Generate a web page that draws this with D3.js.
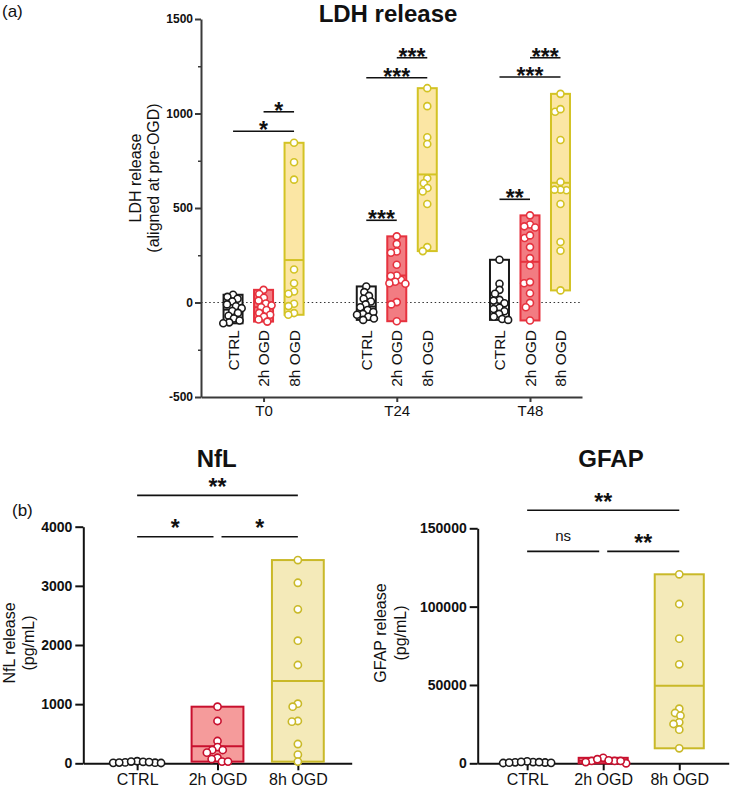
<!DOCTYPE html>
<html><head><meta charset="utf-8">
<script src="https://cdn.jsdelivr.net/npm/d3@7"></script>
<style>
body{margin:0;background:#fff}
svg{display:block}
text{font-family:"Liberation Sans",Arial,Helvetica,sans-serif}
</style>
</head><body>
<svg id="c" width="734" height="787"></svg>
<script>
// ---------------- DATA ----------------
const conditions = ["CTRL", "2h OGD", "8h OGD"];
const ldhGroups = ["T0", "T24", "T48"];
const ldhTicks = [-500, 0, 500, 1000, 1500];
const ldhMinorTicks = [-250, 250, 750, 1250];

const ldhT0Ctrl  = [41, 30, 20, 5, -10, -20, -30, -45, -55, -70, -85, -95, -105, -110];
const ldhT0Ogd2  = [67, 45, 25, 10, -5, -15, -25, -40, -55, -65, -75, -90, -101];
const ldhT0Ogd8  = [845, 742, 650, 175, 102, 58, 46, -7, -19, -56, -65];
const ldhT24Ctrl = [85, 55, 35, 20, 5, -10, -25, -40, -50, -60, -65, -75, -85, -92];
const ldhT24Ogd2 = [350, 310, 270, 263, 200, 120, 143, 140, 110, 102, 99, 2, -10, -99];
const ldhT24Ogd8 = [1134, 1039, 874, 839, 657, 631, 606, 587, 521, 293, 272];
const ldhT48Ctrl = [226, 99, 67, 46, 14, 10, -4, -28, -34, -46, -60, -75, -87, -92];
const ldhT48Ogd2 = [461, 413, 397, 403, 341, 355, 293, 235, 196, 102, 108, 49, -2, -25, -95];
const ldhT48Ogd8 = [1104, 1009, 1023, 860, 638, 594, 597, 597, 521, 320, 274, 64];

// significance comparisons
const ldhSigGroup = ["T0", "T0", "T24", "T24", "T24", "T48", "T48", "T48"];
const ldhSigA     = ["CTRL", "2h OGD", "CTRL", "CTRL", "2h OGD", "CTRL", "CTRL", "2h OGD"];
const ldhSigB     = ["8h OGD", "8h OGD", "2h OGD", "8h OGD", "8h OGD", "2h OGD", "8h OGD", "8h OGD"];
const ldhSigLevel = [906, 1009, 435, 1189, 1295, 546, 1193, 1295];
const ldhSigLabel = ["*", "*", "***", "***", "***", "**", "***", "***"];

const nflTicks = [0, 1000, 2000, 3000, 4000];
const nflCtrl = [10, 35, 25, 5, 20, 15, 8, 30, 12];
const nflOgd2 = [957, 715, 377, 275, 225, 225, 180, 95, 72, 28, 28];
const nflOgd8 = [3436, 3052, 2603, 2073, 1662, 1008, 957, 715, 704, 326, 146, 28];
const nflSigA = ["CTRL", "2h OGD", "CTRL"];
const nflSigB = ["2h OGD", "8h OGD", "8h OGD"];
const nflSigLevel = [3830, 3830, 4530];
const nflSigLabel = ["*", "*", "**"];

const gfapTicks = [0, 50000, 100000, 150000];
const gfapCtrl = [500, 800, 300, 1200, 600, 200, 900, 400, 700];
const gfapOgd2 = [1500, 3500, 1500, 2600, 0, 1900, 800, 1500];
const gfapOgd8 = [120638, 101681, 79553, 63191, 34851, 32106, 30404, 26149, 25085, 21468, 9574];
const gfapSigA = ["CTRL", "2h OGD", "CTRL"];
const gfapSigB = ["2h OGD", "8h OGD", "8h OGD"];
const gfapSigLevel = [135300, 135300, 161500];
const gfapSigLabel = ["ns", "**", "**"];

// ---------------- STYLE ----------------
const topColors = {
  "CTRL":   {stroke: "#1a1a1a", fill: "#ffffff"},
  "2h OGD": {stroke: "#e6323e", fill: "#f27c82"},
  "8h OGD": {stroke: "#d3c324", fill: "#fbe6a4"}
};
const botColors = {
  "CTRL":   {stroke: "#1a1a1a", fill: "#ffffff"},
  "2h OGD": {stroke: "#c8102e", fill: "#f59b9b"},
  "8h OGD": {stroke: "#c9b928", fill: "#f4eab9"}
};

const svg = d3.select("#c");

function beeswarm(vals, yScale, D) {
  const items = vals.map((v, i) => ({v, i, y: yScale(v)}));
  const sorted = items.slice().sort((a, b) => b.v - a.v);
  const placed = [];
  sorted.forEach(p => {
    const ivs = [];
    placed.forEach(q => {
      const dy = Math.abs(q.y - p.y);
      if (dy < D) { const dx = Math.sqrt(D * D - dy * dy); ivs.push([q.x - dx, q.x + dx]); }
    });
    const cands = [0];
    ivs.forEach(iv => cands.push(iv[0], iv[1]));
    cands.sort((a, b) => Math.abs(a) - Math.abs(b) || a - b);
    let x = 0;
    for (const c of cands) {
      if (ivs.every(iv => c <= iv[0] + 1e-6 || c >= iv[1] - 1e-6)) { x = c; break; }
    }
    p.x = x; placed.push(p);
  });
  return items.map(p => p.x);
}

function drawBox(g, cx, w, vals, yScale, col, D, r) {
  const mx = d3.max(vals), mn = d3.min(vals), mean = d3.mean(vals);
  g.append("rect")
    .attr("x", cx - w / 2).attr("y", yScale(mx))
    .attr("width", w).attr("height", Math.max(0.5, yScale(mn) - yScale(mx)))
    .attr("fill", col.fill).attr("stroke", col.stroke).attr("stroke-width", 2);
  g.append("line")
    .attr("x1", cx - w / 2).attr("x2", cx + w / 2)
    .attr("y1", yScale(mean)).attr("y2", yScale(mean))
    .attr("stroke", col.stroke).attr("stroke-width", 2);
  const offs = beeswarm(vals, yScale, D);
  g.selectAll(null).data(vals).enter().append("circle")
    .attr("cx", (d, i) => cx + offs[i]).attr("cy", d => yScale(d))
    .attr("r", r).attr("fill", "#fff")
    .attr("stroke", col.stroke).attr("stroke-width", 1.6);
}

function styleAxis(a, color, fontSize, bold) {
  a.select(".domain").attr("stroke", color).attr("stroke-width", 2);
  a.selectAll(".tick line").attr("stroke", color).attr("stroke-width", 2);
  a.selectAll(".tick text").attr("fill", "#111")
    .style("font-size", fontSize + "px")
    .style("font-weight", bold ? "bold" : "normal")
    .style("font-family", '"Liberation Sans", Arial, sans-serif');
}

function drawSig(g, xOf, yScale, A, B, lev, lab, starDy, nsDy) {
  A.forEach((a, i) => {
    let x1 = xOf(a), x2 = xOf(B[i]);
    A.forEach((a2, j) => {
      if (j === i || lev[j] !== lev[i]) return;
      if (B[j] === a) x1 += 4;
      if (a2 === B[i]) x2 -= 4;
    });
    const y = yScale(lev[i]);
    g.append("line").attr("x1", x1).attr("x2", x2).attr("y1", y).attr("y2", y)
      .attr("stroke", "#111").attr("stroke-width", 1.6);
    const isNs = lab[i] === "ns";
    g.append("text").attr("x", (x1 + x2) / 2).attr("y", y + (isNs ? nsDy : starDy))
      .attr("text-anchor", "middle")
      .style("font-size", isNs ? "15px" : "23px")
      .style("font-weight", isNs ? "normal" : "bold")
      .attr("fill", "#111").text(lab[i]);
  });
}

// ---------------- PANEL (a): LDH ----------------
const ldhData = {
  "T0":  {"CTRL": ldhT0Ctrl,  "2h OGD": ldhT0Ogd2,  "8h OGD": ldhT0Ogd8},
  "T24": {"CTRL": ldhT24Ctrl, "2h OGD": ldhT24Ogd2, "8h OGD": ldhT24Ogd8},
  "T48": {"CTRL": ldhT48Ctrl, "2h OGD": ldhT48Ogd2, "8h OGD": ldhT48Ogd8}
};
const yL = d3.scaleLinear().domain([-500, 1500]).range([397, 19]);
const xG = d3.scalePoint().domain(ldhGroups).range([201, 582]).padding(0.43).align(0.546);
const xC = d3.scalePoint().domain(conditions).range([-30.5, 30.5]);
const gA = svg.append("g");

gA.append("line").attr("x1", 201).attr("x2", 582).attr("y1", yL(0)).attr("y2", yL(0))
  .attr("stroke", "#333").attr("stroke-width", 1.2).attr("stroke-dasharray", "1.5,2.6");

ldhGroups.forEach(gr => {
  conditions.forEach(c => {
    drawBox(gA, xG(gr) + xC(c), 19, ldhData[gr][c], yL, topColors[c], 6, 3.5);
    gA.append("text")
      .attr("transform", `translate(${xG(gr) + xC(c)},330) rotate(-90)`)
      .attr("dy", "0.36em").attr("text-anchor", "end")
      .style("font-size", "15.5px").attr("fill", "#111").text(c);
  });
});

const axYL = gA.append("g").attr("transform", "translate(201,0)")
  .call(d3.axisLeft(yL).tickValues(ldhTicks).tickSize(6).tickPadding(2).tickSizeOuter(0)
    .tickFormat(d => String(d)));
styleAxis(axYL, "#3a3a3a", 12, true);
const axYLm = gA.append("g").attr("transform", "translate(201,0)")
  .call(d3.axisLeft(yL).tickValues(ldhMinorTicks).tickSize(3).tickFormat(""));
axYLm.select(".domain").remove();
axYLm.selectAll(".tick line").attr("stroke", "#3a3a3a").attr("stroke-width", 1.5);
const axXL = gA.append("g").attr("transform", "translate(0,397)")
  .call(d3.axisBottom(xG).tickSize(5).tickPadding(3.5).tickSizeOuter(0));
styleAxis(axXL, "#3a3a3a", 15, false);

ldhSigGroup.forEach((gr, i) => {
  const x1 = xG(gr) + xC(ldhSigA[i]), x2 = xG(gr) + xC(ldhSigB[i]);
  const y = yL(ldhSigLevel[i]);
  gA.append("line").attr("x1", x1).attr("x2", x2).attr("y1", y).attr("y2", y)
    .attr("stroke", "#111").attr("stroke-width", 1.6);
  gA.append("text").attr("x", (x1 + x2) / 2).attr("y", y + 7)
    .attr("text-anchor", "middle").style("font-size", "23px").style("font-weight", "bold")
    .attr("fill", "#111").text(ldhSigLabel[i]);
});

svg.append("text").attr("x", 388).attr("y", 22).attr("text-anchor", "middle")
  .style("font-size", "24px").style("font-weight", "bold").attr("fill", "#111").text("LDH release");
svg.append("text").attr("x", 2).attr("y", 17).style("font-size", "17px").attr("fill", "#111").text("(a)");
[["LDH release", 135], ["(aligned at pre-OGD)", 153]].forEach(([t, x]) => {
  svg.append("text").attr("transform", `translate(${x},178) rotate(-90)`)
    .attr("dy", "0.36em").attr("text-anchor", "middle")
    .style("font-size", "16px").attr("fill", "#111").text(t);
});

// ---------------- PANEL (b): NfL & GFAP ----------------
function drawBottom(opts) {
  const g = svg.append("g");
  const y = d3.scaleLinear().domain(opts.domain).range([763.3, opts.yTop]);
  const x = d3.scalePoint().domain(conditions).range(opts.xRange).padding(opts.pad);
  const w = x.step() * 0.645;
  const ax = g.append("g").attr("transform", "translate(0,763.3)")
    .call(d3.axisBottom(x).tickSize(7).tickPadding(3.2).tickSizeOuter(0));
  styleAxis(ax, "#111", 16, false);
  opts.series.forEach((vals, k) => {
    drawBox(g, x(conditions[k]), w, vals, y, botColors[conditions[k]], 6, 3.6);
  });
  const ay = g.append("g").attr("transform", `translate(${opts.xRange[0]},0)`)
    .call(d3.axisLeft(y).tickValues(opts.ticks).tickSize(8).tickPadding(3).tickSizeOuter(0)
      .tickFormat(d => String(d)));
  styleAxis(ay, "#111", 14, true);
  drawSig(g, (c) => x(c), y, opts.sigA, opts.sigB, opts.sigLevel, opts.sigLabel, -0.5, -10);
  svg.append("text").attr("x", opts.titleX).attr("y", 466.7).attr("text-anchor", "middle")
    .style("font-size", "24px").style("font-weight", "bold").attr("fill", "#111").text(opts.title);
  opts.ylab.forEach(([t, lx]) => {
    svg.append("text").attr("transform", `translate(${lx},${opts.ylabY}) rotate(-90)`)
      .attr("dy", "0.36em").attr("text-anchor", "middle")
      .style("font-size", "16px").attr("fill", "#111").text(t);
  });
}

drawBottom({
  domain: [0, 4000], yTop: 526.7, xRange: [83.3, 351.7], pad: 0.67,
  ticks: nflTicks, series: [nflCtrl, nflOgd2, nflOgd8],
  sigA: nflSigA, sigB: nflSigB, sigLevel: nflSigLevel, sigLabel: nflSigLabel,
  title: "NfL", titleX: 216.7, ylab: [["NfL release", 9.5], ["(pg/mL)", 28]], ylabY: 643
});
drawBottom({
  domain: [0, 150000], yTop: 528.3, xRange: [477.7, 728.7], pad: 0.65,
  ticks: gfapTicks, series: [gfapCtrl, gfapOgd2, gfapOgd8],
  sigA: gfapSigA, sigB: gfapSigB, sigLevel: gfapSigLevel, sigLabel: gfapSigLabel,
  title: "GFAP", titleX: 611, ylab: [["GFAP release", 380], ["(pg/mL)", 400.5]], ylabY: 633
});
svg.append("text").attr("x", 12).attr("y", 516).style("font-size", "17px").attr("fill", "#111").text("(b)");
</script>
</body></html>
